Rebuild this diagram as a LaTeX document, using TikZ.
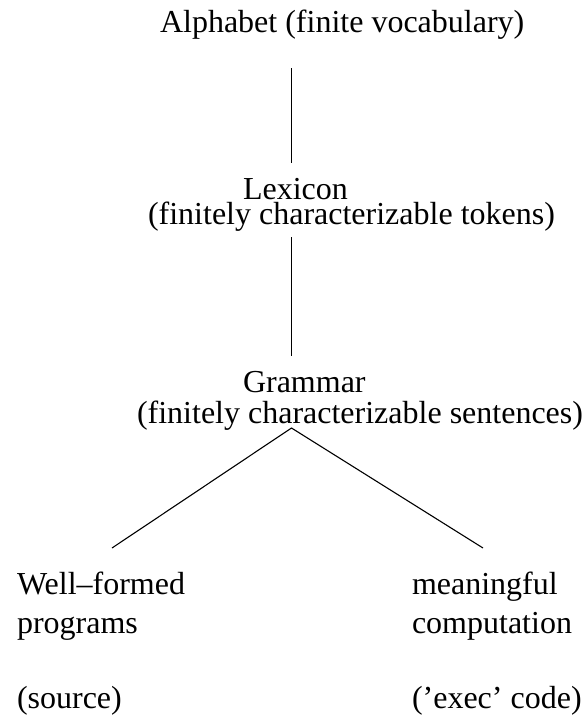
\documentclass[tikz,border=0pt]{standalone}
\usepackage{fontspec}
\setmainfont{Liberation Serif}
\begin{document}
\begin{tikzpicture}[x=1pt,y=-1pt,
  label/.style={inner sep=0pt,outer sep=0pt,anchor=base west,
    font=\fontsize{32}{38}\selectfont},
  link/.style={line width=1.1pt,black}]
\useasboundingbox (0,0) rectangle (588,721);

% levels of the hierarchy
\node[label] (alpha)   at (160,32)  {Alphabet (finite vocabulary)};
\node[label] (lex)     at (243,199) {Lexicon};
\node[label] (lexsub)  at (148,224) {(finitely characterizable tokens)};
\node[label] (gram)    at (243,392) {Grammar};
\node[label] (gramsub) at (137,423) {(finitely characterizable sentences)};

% the two branches below the grammar
\node[label] (wf1) at (17,594)  {Well\textendash formed};
\node[label] (wf2) at (17,633)  {programs};
\node[label] (wf3) at (17,708)  {(source)};
\node[label] (mc1) at (412,594) {meaningful};
\node[label] (mc2) at (412,633) {computation};
\node[label] (mc3) at (412,708) {('exec' code)};

% connector end points
\coordinate (a1) at (291.5,68);
\coordinate (a2) at (291.5,163);
\coordinate (b1) at (291.5,237);
\coordinate (b2) at (291.5,356);
\coordinate (apex) at (291.5,428);
\coordinate (lend) at (112,548);
\coordinate (rend) at (483,548);

\draw[link] (a1) -- (a2);
\draw[link] (b1) -- (b2);
\draw[link] (lend) -- (apex) -- (rend);
\end{tikzpicture}
\end{document}
